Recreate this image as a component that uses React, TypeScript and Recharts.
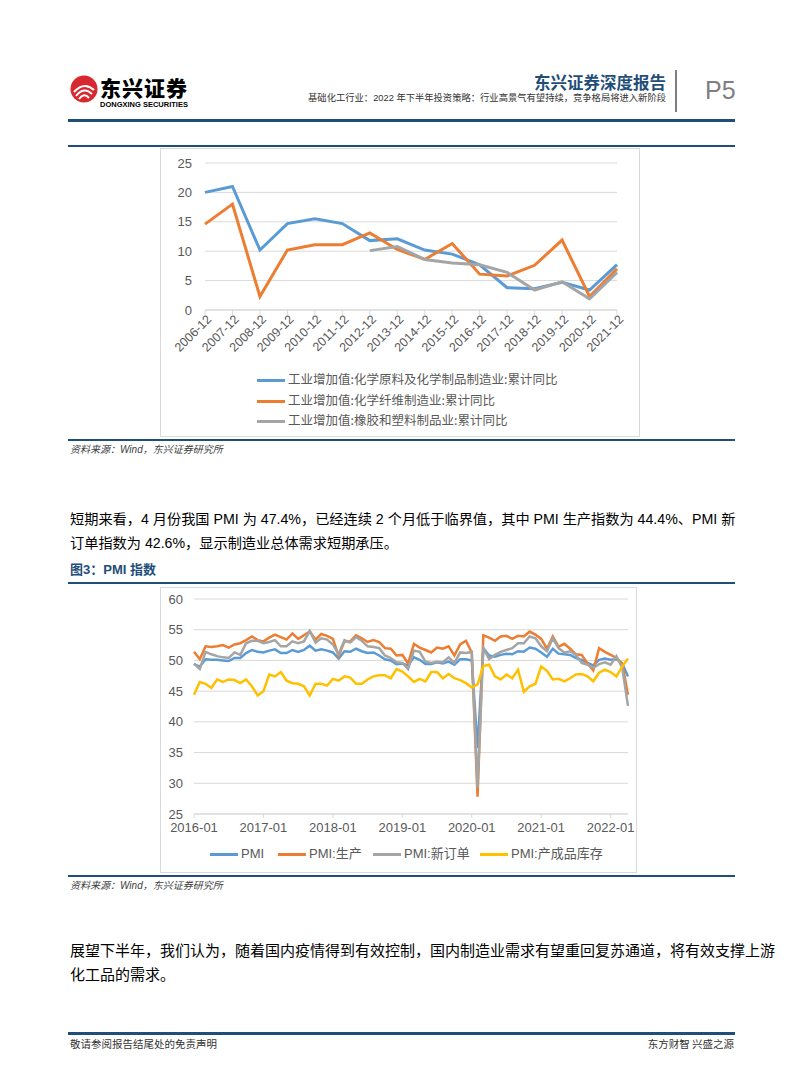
import React from "react";
import { CartesianGrid, Line, LineChart, XAxis, YAxis } from "recharts";

// chart 1: industrial value added, cumulative yoy (%)
const years = [
  "2006-12", "2007-12", "2008-12", "2009-12", "2010-12", "2011-12", "2012-12", "2013-12",
  "2014-12", "2015-12", "2016-12", "2017-12", "2018-12", "2019-12", "2020-12", "2021-12",
];
const chemRaw = [20.0, 21.0, 10.2, 14.7, 15.5, 14.7, 11.8, 12.1, 10.2, 9.5, 7.7, 3.8, 3.6, 4.7, 3.4, 7.7];
const chemFiber = [14.6, 18.0, 2.3, 10.2, 11.1, 11.1, 13.1, 10.3, 8.6, 11.3, 6.1, 5.8, 7.6, 11.9, 2.3, 7.0];
const rubberPlastic = [null, null, null, null, null, null, 10.1, 10.8, 8.6, 8.0, 7.7, 6.4, 3.4, 4.8, 1.9, 6.4];
const legend1 = [
  "工业增加值:化学原料及化学制品制造业:累计同比",
  "工业增加值:化学纤维制造业:累计同比",
  "工业增加值:橡胶和塑料制品业:累计同比",
];

// chart 2: PMI, monthly 2016-01 .. 2022-04
const pmiYears = [2016, 2017, 2018, 2019, 2020, 2021, 2022];
const pmiTicks = ["2016-01", "2017-01", "2018-01", "2019-01", "2020-01", "2021-01", "2022-01"];
const pmi = [
  49.4, 49.0, 50.2, 50.1, 50.1, 50.0, 49.9, 50.4, 50.4, 51.2, 51.7, 51.4,
  51.3, 51.6, 51.8, 51.2, 51.2, 51.7, 51.4, 51.7, 52.4, 51.6, 51.8, 51.6,
  51.3, 50.3, 51.5, 51.4, 51.9, 51.5, 51.2, 51.3, 50.8, 50.2, 50.0, 49.4,
  49.5, 49.2, 50.5, 50.1, 49.4, 49.4, 49.7, 49.5, 49.8, 49.3, 50.2, 50.2,
  50.0, 35.7, 52.0, 50.8, 50.6, 50.9, 51.1, 51.0, 51.5, 51.4, 52.1, 51.9,
  51.3, 50.6, 51.9, 51.1, 51.0, 50.9, 50.4, 50.1, 49.6, 49.2, 50.1, 50.3,
  50.1, 50.2, 49.5, 47.4,
];
const production = [
  51.4, 50.2, 52.3, 52.2, 52.3, 52.5, 52.1, 52.6, 52.8, 53.3, 53.9, 53.3,
  53.1, 53.7, 54.2, 53.8, 53.4, 54.4, 53.5, 54.1, 54.7, 53.4, 54.3, 54.0,
  53.5, 50.7, 53.1, 53.1, 54.1, 53.6, 53.0, 53.3, 53.0, 52.0, 51.9, 50.8,
  50.9, 49.5, 52.7, 52.1, 51.7, 51.3, 52.1, 51.9, 52.3, 50.8, 52.6, 53.2,
  51.3, 27.8, 54.1, 53.7, 53.2, 53.9, 54.0, 53.5, 54.0, 53.9, 54.7, 54.2,
  53.5, 51.9, 53.9, 52.2, 52.7, 51.9, 51.0, 50.9, 49.5, 48.4, 52.0, 51.4,
  50.9, 50.4, 49.5, 44.4,
];
const newOrders = [
  49.5, 48.6, 51.4, 51.0, 50.7, 50.5, 50.4, 51.3, 50.9, 52.8, 53.2, 53.2,
  52.8, 53.0, 53.3, 52.3, 52.3, 53.1, 52.8, 53.1, 54.8, 52.9, 53.6, 53.4,
  52.6, 51.0, 53.3, 52.9, 53.8, 53.2, 52.3, 52.2, 52.0, 50.8, 50.4, 49.7,
  49.6, 48.6, 51.6, 51.4, 49.8, 49.6, 49.8, 49.7, 50.5, 49.6, 51.3, 51.2,
  51.4, 29.3, 52.0, 50.2, 50.9, 51.4, 51.7, 52.0, 52.8, 52.8, 53.9, 53.6,
  52.3, 51.5, 53.6, 52.0, 51.3, 51.5, 50.9, 49.6, 49.3, 48.8, 49.4, 49.7,
  49.3, 50.7, 48.8, 42.6,
];
const inventory = [
  44.4, 46.5, 46.2, 45.5, 46.9, 46.5, 46.9, 46.8, 46.3, 46.9, 45.8, 44.3,
  45.0, 47.7, 47.4, 48.1, 46.7, 46.3, 46.2, 45.8, 44.3, 46.2, 46.2, 45.9,
  47.0, 46.7, 47.4, 47.2, 46.2, 46.2, 46.9, 47.4, 47.6, 47.6, 47.1, 48.6,
  48.2, 47.4, 46.5, 47.0, 46.6, 48.1, 48.1, 47.1, 47.8, 47.1, 46.8, 46.3,
  45.6, 46.1, 49.1, 49.3, 47.4, 46.9, 47.7, 47.1, 48.5, 44.9, 45.8, 46.2,
  49.0, 48.3, 46.9, 47.0, 46.6, 47.1, 47.7, 47.8, 47.4, 46.6, 48.0, 48.5,
  48.1, 47.4, 49.0, 50.3,
];
const legend2 = ["PMI", "PMI:生产", "PMI:新订单", "PMI:产成品库存"];

const BLUE = "#5B9BD5";
const ORANGE = "#ED7D31";
const GRAY = "#A5A5A5";
const YELLOW = "#FFC000";
const NAVY = "#1F4E79";
const SANS = "'Liberation Sans', 'Noto Sans CJK SC', sans-serif";
const CJK = "'Noto Sans CJK SC', sans-serif";

const months: string[] = [];
pmiYears.forEach((y) => {
  for (let m = 1; m <= 12; m++) months.push(`${y}-${String(m).padStart(2, "0")}`);
});
const pmiData = pmi.map((v, i) => ({
  month: months[i],
  pmi: v,
  production: production[i],
  newOrders: newOrders[i],
  inventory: inventory[i],
}));
const data1 = years.map((y, i) => ({
  year: y,
  chemRaw: chemRaw[i],
  chemFiber: chemFiber[i],
  rubberPlastic: rubberPlastic[i],
}));

const tickStyle = { fill: "#595959", fontSize: 13, fontFamily: SANS };

const RotTick = (props: any) => {
  const { x, y, payload } = props;
  const tx = x + 4;
  return (
    <text
      x={tx}
      y={y}
      dy="0.35em"
      textAnchor="end"
      transform={`rotate(-45, ${tx}, ${y})`}
      fill="#595959"
      fontSize={12.5}
      fontFamily={SANS}
    >
      {payload.value}
    </text>
  );
};

function Rule({ top, h = 1.5 }: { top: number; h?: number }) {
  return <div style={{ position: "absolute", left: 68, width: 667, top, height: h, background: NAVY }} />;
}

function Txt({ left, top, style, children }: any) {
  return <div style={{ position: "absolute", left, top, whiteSpace: "nowrap", ...style }}>{children}</div>;
}

function Sample({ color }: { color: string }) {
  return <span style={{ display: "inline-block", width: 28, height: 3, background: color, marginRight: 3, verticalAlign: "middle" }} />;
}

function ChemChart() {
  const colors = [BLUE, ORANGE, GRAY];
  return (
    <>
      <div style={{ position: "absolute", left: 160, top: 148, width: 480, height: 289, border: "1px solid #d9d9d9", boxSizing: "border-box" }} />
      <div style={{ position: "absolute", left: 160, top: 148 }}>
        <LineChart width={480} height={289} data={data1} margin={{ top: 15, right: 23, bottom: 82, left: 0 }}>
          <CartesianGrid vertical={false} stroke="#d9d9d9" />
          <XAxis
            dataKey="year"
            interval={0}
            height={45}
            stroke="#d9d9d9"
            tickSize={5}
            tickMargin={2}
            tick={<RotTick />}
          />
          <YAxis
            width={45}
            domain={[0, 25]}
            ticks={[0, 5, 10, 15, 20, 25]}
            axisLine={false}
            tickLine={false}
            tickSize={0}
            tickMargin={13}
            tick={tickStyle}
          />
          <Line dataKey="chemRaw" stroke={BLUE} strokeWidth={3} dot={false} isAnimationActive={false} />
          <Line dataKey="chemFiber" stroke={ORANGE} strokeWidth={3} dot={false} isAnimationActive={false} />
          <Line dataKey="rubberPlastic" stroke={GRAY} strokeWidth={3} dot={false} isAnimationActive={false} />
        </LineChart>
      </div>
      {legend1.map((t, i) => (
        <Txt key={t} left={257} top={370 + i * 20.5} style={{ fontSize: 12.5, color: "#595959", fontFamily: CJK, lineHeight: "18px" }}>
          <Sample color={colors[i]} />
          {t}
        </Txt>
      ))}
    </>
  );
}

function PmiChart() {
  const colors = [BLUE, ORANGE, GRAY, YELLOW];
  const lefts = [210, 278, 373, 480];
  return (
    <>
      <div style={{ position: "absolute", left: 160, top: 587, width: 477, height: 286, border: "1px solid #d9d9d9", boxSizing: "border-box" }} />
      <div style={{ position: "absolute", left: 160, top: 587 }}>
        <LineChart width={477} height={286} data={pmiData} margin={{ top: 12, right: 9, bottom: 29, left: 0 }}>
          <CartesianGrid vertical={false} stroke="#d9d9d9" />
          <XAxis
            dataKey="month"
            ticks={pmiTicks}
            interval={0}
            height={30}
            stroke="#d9d9d9"
            tickSize={4}
            tickMargin={5}
            tick={tickStyle}
          />
          <YAxis
            width={34}
            domain={[25, 60]}
            ticks={[25, 30, 35, 40, 45, 50, 55, 60]}
            axisLine={false}
            tickLine={false}
            tickSize={0}
            tickMargin={11}
            tick={tickStyle}
          />
          <Line dataKey="pmi" stroke={BLUE} strokeWidth={2.5} dot={false} isAnimationActive={false} />
          <Line dataKey="production" stroke={ORANGE} strokeWidth={2.5} dot={false} isAnimationActive={false} />
          <Line dataKey="newOrders" stroke={GRAY} strokeWidth={2.5} dot={false} isAnimationActive={false} />
          <Line dataKey="inventory" stroke={YELLOW} strokeWidth={2.5} dot={false} isAnimationActive={false} />
        </LineChart>
      </div>
      {legend2.map((t, i) => (
        <Txt key={t} left={lefts[i]} top={845} style={{ fontSize: 13, color: "#595959", fontFamily: SANS, lineHeight: "18px" }}>
          <Sample color={colors[i]} />
          {t}
        </Txt>
      ))}
    </>
  );
}

const bodyText = { fontSize: 15, color: "#000", fontFamily: SANS, lineHeight: "24px" };
const bodyText1 = { ...bodyText, fontSize: 14.2 };

export default function App() {
  return (
    <div style={{ position: "absolute", left: 0, top: 0, width: 802, height: 1086, background: "#fff", overflow: "hidden" }}>
      {/* header */}
      <svg style={{ position: "absolute", left: 70, top: 75 }} width={28} height={28} viewBox="0 0 28 28">
        <circle cx={14} cy={14} r={13.5} fill="#D7282F" />
        <path d="M4 17 Q14 6 24 15" stroke="#fff" strokeWidth={2} fill="none" />
        <path d="M6 21 Q14 11 22 19" stroke="#fff" strokeWidth={2} fill="none" />
        <path d="M9 24 Q14 17 19 23" stroke="#fff" strokeWidth={2} fill="none" />
      </svg>
      <Txt left={100} top={76} style={{ fontSize: 21, fontWeight: 900, fontFamily: CJK, lineHeight: "22px", letterSpacing: 1 }}>东兴证券</Txt>
      <Txt left={100} top={100} style={{ fontSize: 7.5, fontWeight: 700, fontFamily: SANS, lineHeight: "9px" }}>DONGXING SECURITIES</Txt>
      <div style={{ position: "absolute", right: 802 - 666, top: 71, textAlign: "right", whiteSpace: "nowrap", fontSize: 16.5, fontWeight: 700, color: NAVY, fontFamily: CJK, lineHeight: "22px" }}>
        东兴证券深度报告
      </div>
      <div style={{ position: "absolute", right: 802 - 666, top: 92, textAlign: "right", whiteSpace: "nowrap", fontSize: 9.3, color: "#333", fontFamily: SANS, lineHeight: "12px" }}>
        基础化工行业：2022 年下半年投资策略：行业高景气有望持续，竞争格局将进入新阶段
      </div>
      <div style={{ position: "absolute", left: 675, top: 70, width: 2, height: 42, background: "#7f7f7f" }} />
      <Txt left={705} top={75} style={{ fontSize: 25, color: "#7f7f7f", fontFamily: SANS, lineHeight: "30px" }}>P5</Txt>
      <Rule top={119} h={3} />

      {/* figure 2 */}
      <Rule top={145} />
      <ChemChart />
      <Rule top={439} />
      <Txt left={70} top={443} style={{ fontSize: 10, fontStyle: "italic", color: "#404040", fontFamily: SANS, lineHeight: "14px" }}>
        资料来源：Wind，东兴证券研究所
      </Txt>

      {/* paragraph */}
      <div style={{ position: "absolute", left: 70, top: 507, width: 663, ...bodyText1, textAlign: "justify", textAlignLast: "justify", whiteSpace: "nowrap" }}>
        短期来看，4 月份我国 PMI 为 47.4%，已经连续 2 个月低于临界值，其中 PMI 生产指数为 44.4%、PMI 新
      </div>
      <Txt left={70} top={531} style={bodyText1}>订单指数为 42.6%，显示制造业总体需求短期承压。</Txt>

      {/* figure 3 */}
      <Txt left={70} top={561} style={{ fontSize: 13, fontWeight: 700, color: NAVY, fontFamily: SANS, lineHeight: "18px" }}>图3：PMI 指数</Txt>
      <Rule top={582} />
      <PmiChart />
      <Rule top={875} />
      <Txt left={70} top={879} style={{ fontSize: 10, fontStyle: "italic", color: "#404040", fontFamily: SANS, lineHeight: "14px" }}>
        资料来源：Wind，东兴证券研究所
      </Txt>

      <div style={{ position: "absolute", left: 70, top: 939, width: 663, ...bodyText, textAlign: "justify", textAlignLast: "justify", whiteSpace: "nowrap" }}>
        展望下半年，我们认为，随着国内疫情得到有效控制，国内制造业需求有望重回复苏通道，将有效支撑上游
      </div>
      <Txt left={70} top={963} style={bodyText}>化工品的需求。</Txt>

      {/* footer */}
      <Rule top={1032} h={3} />
      <Txt left={70} top={1037} style={{ fontSize: 10.5, color: "#333", fontFamily: CJK, lineHeight: "14px" }}>敬请参阅报告结尾处的免责声明</Txt>
      <div style={{ position: "absolute", right: 802 - 734, top: 1037, whiteSpace: "nowrap", fontSize: 10.5, color: "#333", fontFamily: CJK, lineHeight: "14px" }}>
        东方财智 兴盛之源
      </div>
    </div>
  );
}
